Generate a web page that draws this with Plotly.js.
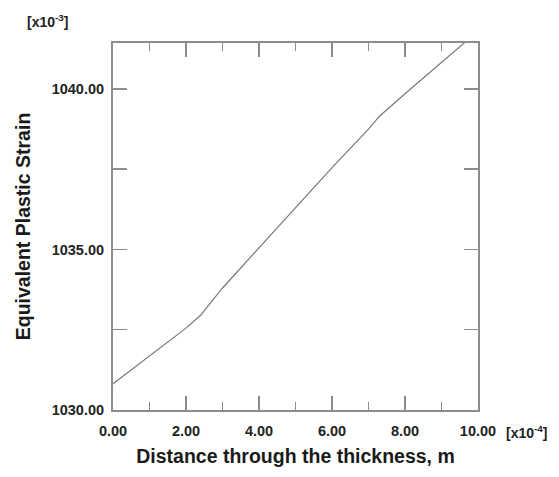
<!DOCTYPE html>
<html>
<head>
<meta charset="utf-8">
<script src="https://cdn.plot.ly/plotly-3.0.1.min.js"></script>
<style>html,body{margin:0;padding:0;background:#fff;}#plot{width:559px;height:477px;}</style>
</head>
<body>
<div id="plot"></div>
<script>
// Distance through the thickness [x10^-4 m]
const distance = [0, 1, 2, 2.4, 3, 4, 5, 6, 7, 7.3, 8, 9, 10];
// Equivalent plastic strain [x10^-3]
const strain = [1030.82, 1031.68, 1032.55, 1032.95, 1033.80, 1035.05, 1036.30, 1037.55, 1038.75, 1039.15, 1039.85, 1040.82, 1041.8];

const xTitle = "Distance through the thickness, m";
const yTitle = "Equivalent Plastic Strain";
const xScaleLabel = "[x10<sup>-4</sup>]";
const yScaleLabel = "[x10<sup>-3</sup>]";

const fontFam = "Liberation Sans, Arial, sans-serif";
const axisCol = "#8c8c8c";

const trace = {
  x: distance, y: strain, type: "scatter", mode: "lines",
  line: {color: "#777", width: 1.2}, hoverinfo: "skip"
};

const layout = {
  width: 559, height: 477,
  margin: {l: 113, r: 81, t: 43, b: 67},
  paper_bgcolor: "#fff", plot_bgcolor: "#fff",
  showlegend: false,
  font: {family: fontFam, color: "#222"},
  xaxis: {
    range: [0, 10], dtick: 2, tick0: 0, tickformat: ".2f",
    ticks: "inside", ticklen: 14, tickwidth: 2, tickcolor: axisCol,
    minor: {dtick: 1, ticks: "inside", ticklen: 8, tickwidth: 1.5, tickcolor: axisCol, showgrid: false},
    showline: true, linecolor: axisCol, linewidth: 2, mirror: "allticks",
    showgrid: false, zeroline: false,
    tickfont: {size: 14.5, family: fontFam, color: "#222", weight: "bold"},
    ticklabelstandoff: 7,
    title: {text: xTitle, font: {size: 19.5, family: fontFam, color: "#1a1a1a", weight: "bold"}, standoff: 11}
  },
  yaxis: {
    range: [1030, 1041.43], dtick: 5, tick0: 1030, tickformat: ".2f",
    ticks: "inside", ticklen: 14, tickwidth: 1.5, tickcolor: axisCol,
    minor: {dtick: 2.5, ticks: "inside", ticklen: 14, tickwidth: 1.5, tickcolor: axisCol, showgrid: false},
    showline: true, linecolor: axisCol, linewidth: 2, mirror: "allticks",
    showgrid: false, zeroline: false,
    tickfont: {size: 14.5, family: fontFam, color: "#222", weight: "bold"},
    ticklabelstandoff: 4,
    title: {text: yTitle, font: {size: 19.5, family: fontFam, color: "#1a1a1a", weight: "bold"}, standoff: 16}
  },
  annotations: [
    {text: yScaleLabel, xref: "paper", yref: "paper", x: -0.18, y: 1.03, xanchor: "center", yanchor: "bottom",
     showarrow: false, font: {size: 14, family: fontFam, color: "#222", weight: "bold"}},
    {text: xScaleLabel, xref: "paper", yref: "paper", x: 1.0, y: 0, xanchor: "left", yanchor: "top", xshift: 26, yshift: -11,
     showarrow: false, font: {size: 14, family: fontFam, color: "#222", weight: "bold"}}
  ]
};

Plotly.newPlot("plot", [trace], layout, {displayModeBar: false, staticPlot: true});
</script>
</body>
</html>
